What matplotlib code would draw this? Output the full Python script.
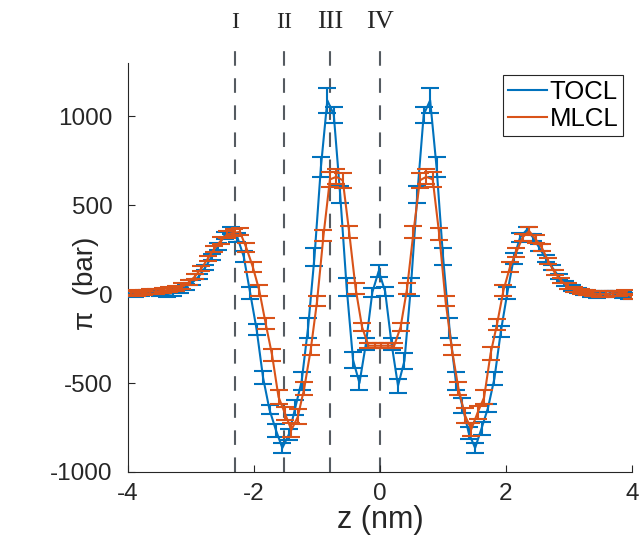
import matplotlib
matplotlib.use('Agg')
import matplotlib.pyplot as plt
import numpy as np

# sampling grids (nm), one value every 0.102 nm
z_tocl = np.round(-0.02 + 0.102 * np.arange(-39, 40), 3)
z_mlcl = np.round(0.021 + 0.102 * np.arange(-39, 40), 3)

# lateral pressure (bar)
tocl_pi = [5, 0, 5, 10, 10, 5, 0, 5, 20, 40,
           65, 100, 150, 210, 270, 330, 360, 320, 210, 5,
           -200, -470, -650, -765, -865, -790, -640, -490, -190, 210,
           715, 1090, 1010, 560, 40, -370, -500, -280, 10, 130,
           15, -280, -515, -375, 40, 560, 1010, 1090, 713, 212,
           -190, -490, -625, -780, -865, -755, -640, -475, -210, 5,
           200, 320, 360, 320, 260, 200, 150, 100, 60, 35,
           20, 10, 0, -5, 0, 5, 0, -5, -10]
tocl_err = [15, 15, 15, 15, 15, 15, 15, 15, 15, 15,
            15, 15, 15, 18, 20, 20, 20, 25, 30, 35,
            30, 37, 25, 37, 28, 33, 42, 50, 55, 50,
            56, 70, 45, 50, 53, 45, 40, 35, 25, 33,
            25, 35, 40, 45, 53, 50, 45, 70, 56, 50,
            55, 50, 42, 33, 28, 37, 25, 37, 30, 35,
            30, 25, 20, 20, 20, 18, 15, 15, 15, 15,
            15, 15, 15, 15, 15, 15, 15, 15, 15]

mlcl_pi = [10, 5, 10, 15, 15, 20, 25, 30, 45, 65,
           100, 145, 200, 255, 300, 335, 345, 350, 260, 153,
           22, -165, -343, -578, -670, -764, -690, -530, -315, -40,
           330, 645, 660, 640, 348, 32, -185, -290, -290, -290,
           -290, -290, -185, 30, 348, 640, 660, 645, 340, -40,
           -315, -530, -680, -760, -665, -580, -335, -170, 20, 150,
           235, 320, 355, 310, 260, 185, 120, 75, 45, 25,
           15, 10, 5, 0, 0, 5, 5, 10, -15]
mlcl_err = [15, 15, 15, 15, 15, 15, 15, 15, 15, 15,
            15, 15, 15, 18, 20, 20, 20, 20, 25, 28,
            30, 30, 35, 40, 38, 37, 42, 36, 30, 28,
            33, 42, 42, 42, 33, 30, 25, 15, 15, 15,
            15, 15, 25, 30, 33, 42, 42, 42, 33, 28,
            30, 36, 42, 37, 38, 40, 35, 30, 30, 28,
            25, 20, 20, 20, 20, 18, 15, 15, 15, 15,
            15, 15, 15, 15, 15, 15, 15, 15, 15]

region_z = [-2.3, -1.53, -0.79, 0.0]
region_labels = ['I', 'II', 'III', 'IV']
region_sizes = [17, 17, 19, 19]

blue = '#0072BD'
orange = '#D95319'
dark = '#262626'

plt.rcParams['font.family'] = ['Liberation Sans', 'DejaVu Sans']
plt.rcParams['axes.unicode_minus'] = False

fig = plt.figure(figsize=(6.42, 5.42), dpi=100)
ax = fig.add_axes([0.1994, 0.1292, 0.785, 0.7546])

for z, label, size in zip(region_z, region_labels, region_sizes):
    ax.plot([z, z], [-1000, 1375], color='#555b61', lw=1.5, ls=(0, (7, 6)),
            clip_on=False, zorder=1)
    ax.text(z, 1528, label, ha='center', va='center', fontsize=size,
            family='Liberation Serif', color=dark)

eb_tocl = ax.errorbar(z_tocl, tocl_pi, yerr=tocl_err, color=blue, lw=1.5,
                      elinewidth=1.5, capsize=6.5, capthick=1.5, zorder=3)
eb_mlcl = ax.errorbar(z_mlcl, mlcl_pi, yerr=mlcl_err, color=orange, lw=1.5,
                      elinewidth=1.5, capsize=6.5, capthick=1.5, zorder=4)

ax.set_xlim(-4, 4)
ax.set_ylim(-1000, 1300)
ax.set_xticks([-4, -2, 0, 2, 4])
ax.set_yticks([-1000, -500, 0, 500, 1000])
ax.tick_params(direction='in', length=5, width=0.8, colors=dark, labelsize=17.5)
ax.tick_params(axis='x', pad=8)
ax.tick_params(axis='y', pad=11)
for side in ['top', 'right']:
    ax.spines[side].set_visible(False)
for side in ['left', 'bottom']:
    ax.spines[side].set_color(dark)
    ax.spines[side].set_linewidth(0.8)

ax.set_xlabel('z (nm)', fontsize=22, color=dark, labelpad=0)
ax.set_ylabel('π  (bar)', fontsize=20, color=dark)
ax.yaxis.set_label_coords(-0.058, 0.462)

leg = ax.legend([eb_tocl[0], eb_mlcl[0]], ['TOCL', 'MLCL'], loc='upper right',
                bbox_to_anchor=(0.983, 0.971), borderaxespad=0, fontsize=18.5,
                handlelength=1.5, handletextpad=0.1, borderpad=0.2,
                labelspacing=0.1, fancybox=False, framealpha=1)
leg.get_frame().set_edgecolor(dark)
leg.get_frame().set_linewidth(0.8)

fig.savefig('out.png', dpi=100)
plt.close('all')
